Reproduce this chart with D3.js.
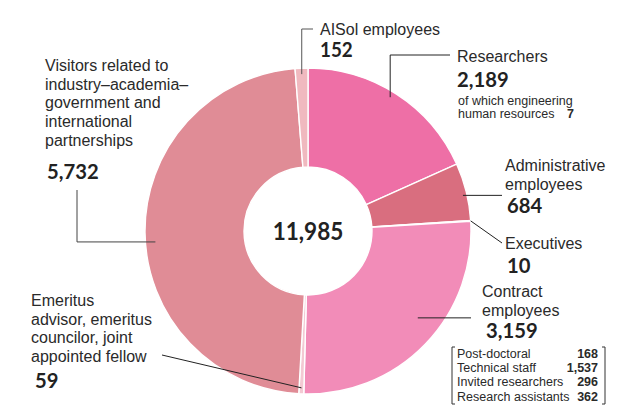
<!DOCTYPE html>
<html>
<head>
<meta charset="utf-8">
<script src="https://cdn.jsdelivr.net/npm/d3@7/dist/d3.min.js"></script>
<style>
  html, body { margin: 0; padding: 0; background: #fff; }
  svg { display: block; }
  .lbl { font-family: "Liberation Sans", Arial, sans-serif; font-size: 16px; fill: #2a2a2a; }
  .num { font-family: "Lato", "Inter", sans-serif; font-weight: 700; fill: #222; }
  .small { font-family: "Liberation Sans Narrow", "Liberation Sans", Arial, sans-serif; font-size: 12.5px; fill: #2a2a2a; }
</style>
</head>
<body>
<svg id="chart" width="633" height="405"></svg>
<script>
// Headcount breakdown
const categories = [
  "Researchers",
  "Administrative employees",
  "Executives",
  "Contract employees",
  "Emeritus advisor, emeritus councilor, joint appointed fellow",
  "Visitors related to industry–academia–government and international partnerships",
  "AISol employees"
];
const values = [2189, 684, 10, 3159, 59, 5732, 152];
const sliceColors = ["#ee6fa6", "#d96e7f", "#f6c3d3", "#f28cb8", "#f3c9d3", "#e08c96", "#f0b9bf"];

const engineeringLabel = ["of which engineering", "human resources"];
const engineeringValue = 7;

const contractLabels = ["Post-doctoral", "Technical staff", "Invited researchers", "Research assistants"];
const contractValues = [168, 1537, 296, 362];

const total = d3.sum(values);
const fmt = d3.format(",");

const svg = d3.select("#chart");
const cx = 308, cy = 231, rOuter = 163, rInner = 64;

const pie = d3.pie().sort(null).value(d => d);
const arcs = pie(values);
const arc = d3.arc().innerRadius(rInner).outerRadius(rOuter);

const g = svg.append("g").attr("transform", `translate(${cx},${cy})`);
g.selectAll("path.slice")
  .data(arcs)
  .join("path")
  .attr("class", "slice")
  .attr("d", arc)
  .attr("fill", (d, i) => sliceColors[i])
  .attr("stroke", "#fff")
  .attr("stroke-width", 1.4);

// bold figure, slightly condensed
function numText(x, y, size, text, anchorMode) {
  svg.append("text")
    .attr("class", "num")
    .attr("transform", `translate(${x},${y}) scale(0.94,1)`)
    .attr("text-anchor", anchorMode || "start")
    .attr("font-size", size)
    .text(text);
}

function lblLines(x, y0, step, lines) {
  lines.forEach((t, k) => {
    svg.append("text").attr("class", "lbl").attr("x", x).attr("y", y0 + k * step).text(t);
  });
}

// total in the hole
numText(cx, cy + 9, 24, fmt(total), "middle");

// point on a slice at a fraction of its angular span and a given radius
function anchor(i, frac, r) {
  const a = arcs[i].startAngle + (arcs[i].endAngle - arcs[i].startAngle) * frac;
  return [cx + r * Math.sin(a), cy - r * Math.cos(a)];
}

const leaders = svg.append("g").attr("fill", "none").attr("stroke", "#222").attr("stroke-width", 1);

function leader(points, color) {
  leaders.append("path")
    .attr("d", d3.line()(points))
    .attr("stroke", color || "#222");
}

// Researchers
{
  const p = anchor(0, 0.48, 157);
  leader([p, [p[0], 55], [450, 55]]);
  lblLines(457, 62, 18, ["Researchers"]);
  numText(457, 87, 21.5, fmt(values[0]));
  svg.append("text").attr("class", "small").attr("x", 458).attr("y", 105).text(engineeringLabel[0]);
  svg.append("text").attr("class", "small").attr("x", 458).attr("y", 118).text(engineeringLabel[1]);
  svg.append("text").attr("class", "small").attr("x", 567).attr("y", 118)
    .attr("font-weight", 700).attr("font-size", 13).text(engineeringValue);
}

// Administrative employees
{
  const p = anchor(1, 0.55, 159);
  leader([p, [502, p[1]]]);
  lblLines(505, 171, 18.5, ["Administrative", "employees"]);
  numText(507, 213, 21.5, fmt(values[1]));
}

// Executives
{
  const p = anchor(2, 0.5, rOuter);
  leader([p, [502, 243]]);
  lblLines(505, 249, 18, ["Executives"]);
  numText(507, 273, 21.5, fmt(values[2]));
}

// Contract employees
{
  const p = anchor(3, 0.44, 140);
  leader([p, [471, p[1]]]);
  lblLines(482, 297, 18.5, ["Contract", "employees"]);
  numText(486, 338, 21.5, fmt(values[3]));

  // breakdown in brackets
  const bx0 = 452, bx1 = 605, by0 = 347, by1 = 404;
  const br = svg.append("g").attr("fill", "none").attr("stroke", "#333").attr("stroke-width", 1);
  br.append("path").attr("d", d3.line()([[bx0 + 3, by0], [bx0, by0], [bx0, by1], [bx0 + 3, by1]]));
  br.append("path").attr("d", d3.line()([[bx1 - 3, by0], [bx1, by0], [bx1, by1], [bx1 - 3, by1]]));
  contractLabels.forEach((t, k) => {
    const y = 357.5 + k * 14.4;
    svg.append("text").attr("class", "small").attr("x", 457).attr("y", y).attr("font-size", 13.5).text(t);
    svg.append("text").attr("class", "small").attr("x", 598).attr("y", y).attr("font-size", 13.5)
      .attr("text-anchor", "end").attr("font-weight", 700).text(fmt(contractValues[k]));
  });
}

// Emeritus
{
  const p = anchor(4, 0.5, 157);
  leader([[162, 355], p]);
  lblLines(31, 306, 18.7, ["Emeritus", "advisor, emeritus", "councilor, joint", "appointed fellow"]);
  numText(35, 388, 21.5, fmt(values[4]));
}

// Visitors
{
  const p = anchor(5, 0.48, 153);
  leader([[77, 190], [77, p[1]], p], "#444");
  lblLines(45, 71, 18.7, ["Visitors related to", "industry–academia–", "government and", "international", "partnerships"]);
  numText(47, 179, 21.5, fmt(values[5]));
}

// AISol employees
{
  const p = anchor(6, 0.5, 157);
  leader([p, [p[0], 29], [313, 29]], "#555");
  lblLines(320, 35, 18, ["AISol employees"]);
  numText(320, 57, 20, fmt(values[6]));
}
</script>
</body>
</html>
